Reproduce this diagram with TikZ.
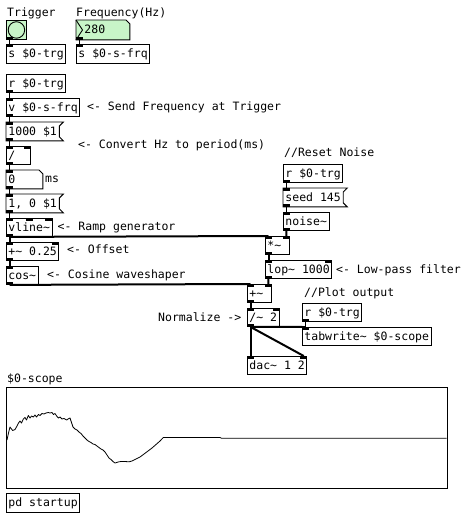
\documentclass[tikz,border=0pt]{standalone}
\usepackage{fontspec}
\setmainfont{DejaVu Sans Mono}
\usetikzlibrary{backgrounds}
\definecolor{guigreen}{RGB}{200,245,200}
\newcommand\tld{\textasciitilde}
\newcommand\pdinl[1]{\fill (#1.north west) rectangle ([xshift=7pt,yshift=-2.5pt]#1.north west);}
\newcommand\pdinr[1]{\fill ([xshift=-7pt]#1.north east) rectangle ([yshift=-2.5pt]#1.north east);}
\newcommand\pdinm[1]{\fill ([xshift=-3.5pt]#1.north) rectangle ([xshift=3.5pt,yshift=-2.5pt]#1.north);}
\newcommand\pdout[1]{\fill ([yshift=2.5pt]#1.south west) rectangle ([xshift=7pt]#1.south west);}
\newcommand\pdmsg[1]{\draw[boxln] (#1.north west) -- ([xshift=4pt]#1.north east) -- ([yshift=-4pt]#1.north east) -- ([yshift=4pt]#1.south east) -- ([xshift=4pt]#1.south east) -- (#1.south west) -- cycle;}
\newcommand\pdatom[1]{\draw[boxln] (#1.north west) -- ([xshift=-4pt]#1.north east) -- ([yshift=-4pt]#1.north east) -- (#1.south east) -- (#1.south west) -- cycle;}
\newcommand\pdctl[2]{\draw[ctl] ([xshift=3.5pt]#1.south west) -- ([xshift=3.5pt]#2.north west);}
\newcommand\pdsig[2]{\draw[sig] ([xshift=3.5pt]#1.south west) -- ([xshift=3.5pt]#2.north west);}
\newcommand\pdsigr[2]{\draw[sig] ([xshift=3.5pt]#1.south west) -- ([xshift=-3.5pt]#2.north east);}
\tikzset{
  boxln/.style={line width=0.9pt},
  obj/.style={draw, boxln, anchor=north west, inner xsep=2pt, inner ysep=0pt,
    minimum height=18pt, text height=10pt, text depth=2pt, align=left},
  msgnode/.style={obj, draw=none},
  cmt/.style={anchor=west, inner sep=0pt, text height=10pt, text depth=2pt},
  ctl/.style={line width=0.9pt},
  sig/.style={line width=2pt},
}
\begin{document}
\begin{tikzpicture}[x=1pt,y=-1pt,font=\fontsize{11.5pt}{13pt}\selectfont]
\useasboundingbox (0,0) rectangle (470,523);

% comments
\node[cmt] (cTrig) at (7,12) {Trigger};
\node[cmt] (cFreq) at (76,12) {Frequency(Hz)};
\node[cmt] (cSend) at (87,106.5) {<- Send Frequency at Trigger};
\node[cmt] (cConv) at (78,144.5) {<- Convert Hz to period(ms)};
\node[cmt] (cMs) at (45,178.5) {ms};
\node[cmt] (cRamp) at (57.5,226.5) {<- Ramp generator};
\node[cmt] (cOff) at (67,249) {<- Offset};
\node[cmt] (cCos) at (47,274) {<- Cosine waveshaper};
\node[cmt] (cReset) at (284,152.5) {//Reset Noise};
\node[cmt] (cLop) at (336,269) {<- Low-pass filter};
\node[cmt] (cPlot) at (304,292) {//Plot output};
\node[cmt] (cNorm) at (158,317) {Normalize ->};
\node[cmt] (cScope) at (7,378) {\$0-scope};

% GUI objects
\node[draw, boxln, fill=guigreen, minimum width=20pt, minimum height=19pt, inner sep=0pt, anchor=north west] (bang) at (6,20) {};
\node[circle, draw, boxln, minimum size=16.5pt, inner sep=0pt] (bangc) at (bang.center) {};
\node[msgnode, text width=49pt, minimum height=19pt] (freq) at (76,20) {\hspace*{6pt}280};
\begin{scope}[on background layer]
\fill[white] (0,0) rectangle (470,523);
\fill[guigreen] (freq.north west) -- ([xshift=-4pt]freq.north east) -- ([yshift=-4pt]freq.north east) -- (freq.south east) -- (freq.south west) -- cycle;
\end{scope}
\pdatom{freq}
\draw[boxln] (freq.north west) -- ([xshift=6.5pt]freq.west) -- (freq.south west);
\pdout{bang}
\pdout{freq}

% left column
\node[obj, minimum height=19pt] (sTrg) at (6,44) {s \$0-trg};
\node[obj, minimum height=19pt] (sFrq) at (76,44) {s \$0-s-frq};
\node[obj] (rTrg) at (6,74) {r \$0-trg};
\node[obj] (vFrq) at (6,98) {v \$0-s-frq};
\node[msgnode] (m1000) at (6,122) {1000 \$1};
\pdmsg{m1000}
\node[obj, text width=20pt] (div) at (6,146) {/};
\node[msgnode, text width=32pt] (ms) at (6,170) {0};
\pdatom{ms}
\node[msgnode] (m10) at (6,194) {1, 0 \$1};
\pdmsg{m10}
\node[obj] (vline) at (6,218) {vline\tld};
\node[obj] (off) at (6,242) {+\tld{} 0.25};
\node[obj] (cos) at (6,266) {cos\tld};

% right part
\node[obj] (r2) at (283,164) {r \$0-trg};
\node[msgnode] (seed) at (283,188) {seed 145};
\pdmsg{seed}
\node[obj] (noise) at (283,212) {noise\tld};
\node[obj, text width=20pt] (mul) at (265,236) {*\tld};
\node[obj] (lop) at (265,260) {lop\tld{} 1000};
\node[obj, text width=20pt] (add) at (247,284) {+\tld};
\node[obj] (divs) at (247,308) {/\tld{} 2};
\node[obj] (r3) at (302,303) {r \$0-trg};
\node[obj] (tab) at (302,327) {tabwrite\tld{} \$0-scope};
\node[obj] (dac) at (247,356) {dac\tld{} 1 2};

% bottom
\node[draw, boxln, minimum width=441pt, minimum height=101pt, inner sep=0pt, anchor=north west] (graph) at (6,387) {};
\node[obj, minimum height=19pt] (startup) at (6,493) {pd startup};

% inlets / outlets
\pdinl{sTrg} \pdinl{sFrq}
\pdout{rTrg}
\pdinl{vFrq} \pdout{vFrq}
\pdinl{m1000} \pdout{m1000}
\pdinl{div} \pdinr{div} \pdout{div}
\pdinl{ms} \pdout{ms}
\pdinl{m10} \pdout{m10}
\pdinl{vline} \pdinm{vline} \pdinr{vline} \pdout{vline}
\pdinl{off} \pdinr{off} \pdout{off}
\pdinl{cos} \pdout{cos}
\pdout{r2}
\pdinl{seed} \pdout{seed}
\pdinl{noise} \pdout{noise}
\pdinl{mul} \pdinr{mul} \pdout{mul}
\pdinl{lop} \pdinr{lop} \pdout{lop}
\pdinl{add} \pdinr{add} \pdout{add}
\pdinl{divs} \pdinr{divs} \pdout{divs}
\pdout{r3}
\pdinl{tab}
\pdinl{dac} \pdinr{dac}

% connections
\pdctl{bang}{sTrg}
\pdctl{freq}{sFrq}
\pdctl{rTrg}{vFrq}
\pdctl{vFrq}{m1000}
\pdctl{m1000}{div}
\pdctl{div}{ms}
\pdctl{ms}{m10}
\pdctl{m10}{vline}
\pdsig{vline}{off}
\pdsig{off}{cos}
\pdsig{vline}{mul}
\pdsig{cos}{add}
\pdctl{r2}{seed}
\pdctl{seed}{noise}
\pdsigr{noise}{mul}
\pdsig{mul}{lop}
\pdsigr{lop}{add}
\pdsig{add}{divs}
\pdsig{divs}{tab}
\pdsig{divs}{dac}
\pdsigr{divs}{dac}
\pdctl{r3}{tab}

% scope curve
\draw[line width=0.8pt, line join=round] plot coordinates {
(7,440) (8.5,433) (10,427) (11.5,429) (12.7,430.5) (15,429.5) (17,426) (18.5,423) (20,421) (21.5,423)
(23.3,419) (25,417.5) (26.5,420) (28.3,415.5) (30,418) (31.5,416) (33.3,417) (35,415) (36.5,417)
(38.5,414.5) (40,415.5) (42,413.5) (44,414) (46,413) (48.3,412.5) (50,413) (52,412.5) (53.5,414.5)
(55,413.5) (57,416.5) (58.5,418) (60,417) (62,419) (64,418.5) (66.7,420) (68,419) (70,418) (71,421)
(73,427) (75,429) (77,430) (79,432) (81,433.5) (83,436) (85,438) (87,440) (89,441.5) (91,442.5)
(93,444) (95,444.5) (97,446) (99,447.5) (101,449) (103,450) (105,452) (107,455) (109,458) (111,459.5)
(113,461.5) (115,463) (118,462) (121,461.5) (125,461.5) (129,461.8) (132,461) (136,459) (140,457)
(144,454) (148,451) (152,448) (156,444.5) (160,441) (163.3,437.5) (220,437.5) (221.5,438.2) (446.5,438.2)
};
\end{tikzpicture}
\end{document}
